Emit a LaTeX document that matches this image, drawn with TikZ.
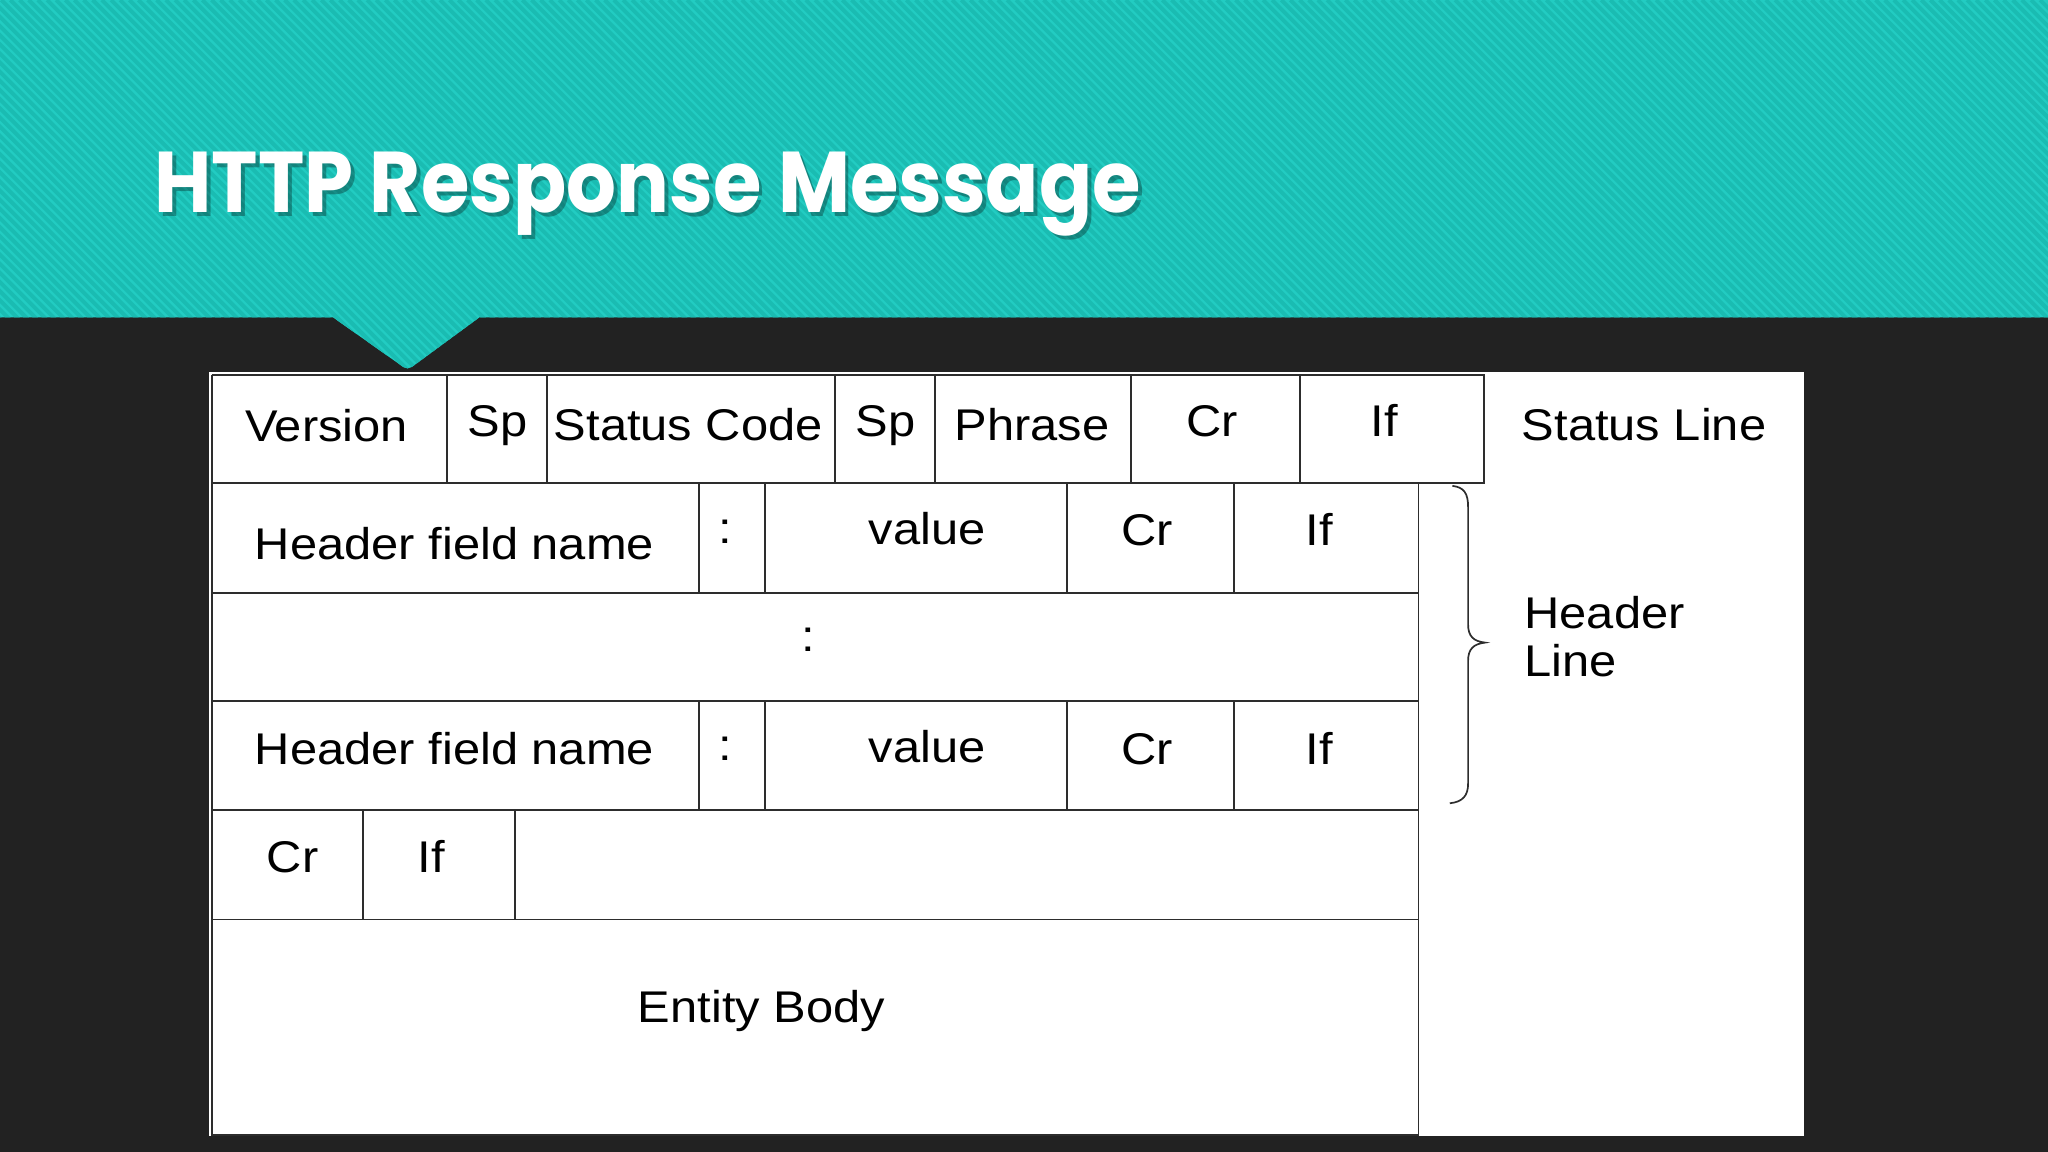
\documentclass[tikz,border=0pt]{standalone}
\usepackage{fontspec}
\setmainfont{Liberation Sans}[FakeStretch=1.1]
\newfontfamily\titlefont{Poppins}[FakeStretch=0.91]
\definecolor{bgdark}{RGB}{34,34,34}
\definecolor{teal}{RGB}{34,204,194}
\definecolor{tealstripe}{RGB}{26,188,178}
\definecolor{tableline}{RGB}{45,45,45}
\tikzset{
  tl/.style={draw=tableline, line width=1.4pt},
  cell/.style={inner sep=0pt, text=black, font=\fontsize{34}{40}\selectfont},
  side/.style={inner sep=0pt, text=black, font=\fontsize{34}{40}\selectfont, anchor=base west},
  stripe/.style={draw=tealstripe, line width=3pt}
}
\begin{document}
\begin{tikzpicture}[x=1pt,y=-1pt]
\useasboundingbox (0,0) rectangle (1568,882);
\fill[bgdark] (0,0) rectangle (1568,882);
% teal band with pointer
\fill[teal] (0,0) -- (1568,0) -- (1568,243) -- (367,243) -- (318,279) .. controls (313,283) and (311,283) .. (306,279) -- (255,243) -- (0,243) -- cycle;
\begin{scope}
\clip (0,0) -- (1568,0) -- (1568,243) -- (367,243) -- (318,279) .. controls (313,283) and (311,283) .. (306,279) -- (255,243) -- (0,243) -- cycle;
\foreach \i in {-300,-293,...,1580} { \draw[stripe] (\i,0) -- (\i+300,300); }
\end{scope}
% title
\node[anchor=base west, inner sep=0pt, text=black, opacity=0.3, font=\titlefont\bfseries\fontsize{66}{70}\selectfont] (titleshadow) at (121,166) {HTTP Response Message};
\node[anchor=base west, inner sep=0pt, text=white, font=\titlefont\bfseries\fontsize{66}{70}\selectfont] (title) at (118,163) {HTTP Response Message};
% white panel
\fill[white] (160,285) rectangle (1381,870);
% table lines
\draw[tl] (162,287) -- (1136,287) -- (1136,370) -- (162,370);
\draw[tl] (162,287) -- (162,869) -- (1086,869) -- (1086,370);
\foreach \x in {342,419,639,716,866,995} { \draw[tl] (\x,287) -- (\x,370); }
\foreach \y in {454,537,620,704} { \draw[tl] (162,\y) -- (1086,\y); }
\foreach \x in {535,586,817,945} { \draw[tl] (\x,370) -- (\x,454); \draw[tl] (\x,537) -- (\x,620); }
\foreach \x in {278,394} { \draw[tl] (\x,620) -- (\x,704); }
% brace
\draw[draw=tableline, line width=1.3pt] (1112,372) .. controls (1121,373) and (1124,378) .. (1124,388) -- (1124,478) .. controls (1124,487) and (1128,491) .. (1137,492) .. controls (1128,493) and (1124,497) .. (1124,506) -- (1124,600) .. controls (1124,609) and (1120,614) .. (1110,615);
% row 1
\node[cell, anchor=base] (version) at (250,338) {Version};
\node[cell, anchor=base] (sp1) at (381,334) {Sp};
\node[cell, anchor=base] (status) at (527,337) {Status Code};
\node[cell, anchor=base] (sp2) at (678,334) {Sp};
\node[cell, anchor=base] (phrase) at (790,337) {Phrase};
\node[cell, anchor=base] (cr1) at (928,334) {Cr};
\node[cell, anchor=base] (lf1) at (1060,334) {If};
% row 2
\node[cell, anchor=base] (hname1) at (348,428) {Header field name};
\node[cell] (colon1) at (555,407) {:};
\node[cell, anchor=base] (value1) at (710,417) {value};
\node[cell, anchor=base] (cr2) at (878,418) {Cr};
\node[cell, anchor=base] (lf2) at (1010,418) {If};
% row 3
\node[cell] (dots) at (619,490) {:};
% row 4
\node[cell, anchor=base] (hname2) at (348,585) {Header field name};
\node[cell] (colon2) at (555,573) {:};
\node[cell, anchor=base] (value2) at (710,584) {value};
\node[cell, anchor=base] (cr3) at (878,585) {Cr};
\node[cell, anchor=base] (lf3) at (1010,585) {If};
% row 5
\node[cell, anchor=base] (cr4) at (224,668) {Cr};
\node[cell, anchor=base] (lf4) at (330,668) {If};
% entity body
\node[cell, anchor=base] (body) at (583,783) {Entity Body};
% side labels
\node[side] (statusline) at (1165,337) {Status Line};
\node[side] (header) at (1167,481) {Header};
\node[side] (line) at (1167,518) {Line};
\end{tikzpicture}
\end{document}
